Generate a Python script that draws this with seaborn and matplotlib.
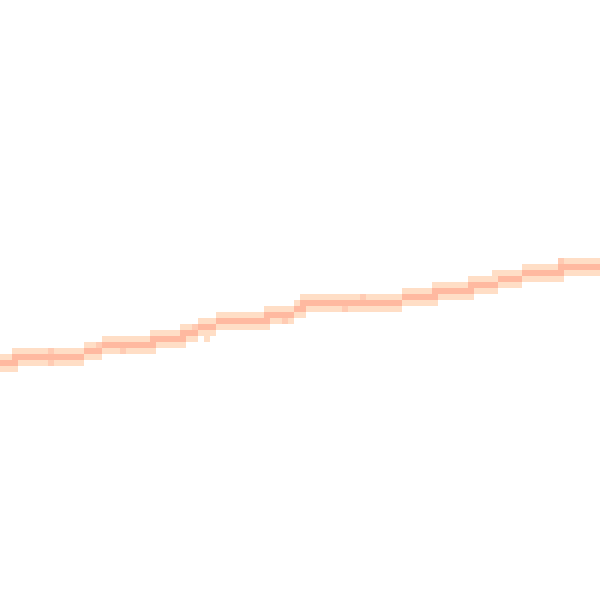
import numpy as np
import matplotlib
matplotlib.use("Agg")
import matplotlib.pyplot as plt
import seaborn as sns

# step runs of the band: left edge x (px) and centre of the dark row (px from top)
step_x = [0, 13, 50, 83, 100, 150, 182, 200, 215, 265, 293, 300, 360, 400, 433, 470, 500, 523, 560, 600]
step_y = [365, 359, 354, 348, 345, 338, 332, 327, 321, 316, 310, 305, 300, 295, 289, 283, 278, 273, 267]

# single stray cells sticking out of the band
bump_x = [98, 121, 197, 207, 283, 327, 347, 364, 494, 559]
bump_y = [342, 353, 327, 337, 321, 300, 310, 294, 273, 262]

cell = 6
xs, ys, ws = [], [], []
for i in range(len(step_y)):
    for x in range(step_x[i], step_x[i + 1], cell):
        xc = x + cell / 2
        xs += [xc, xc, xc]
        ys += [step_y[i] - cell, step_y[i], step_y[i] + cell]
        ws += [1, 3, 1]
for bx, by in zip(bump_x, bump_y):
    xs.append(bx)
    ys.append(by)
    ws.append(1)

fig = plt.figure(figsize=(6, 6), dpi=100)
ax = fig.add_axes([0, 0, 1, 1])
cmap = sns.blend_palette(["#ffdec6", "#ffb9a0"], as_cmap=True)
sns.histplot(x=xs, y=ys, weights=ws, binwidth=(cell, cell),
             binrange=((0, 600), (0, 600)), cmap=cmap, vmin=1, vmax=3, ax=ax)
ax.set_xlim(0, 600)
ax.set_ylim(600, 0)
ax.axis("off")
fig.savefig("out.png", dpi=100)
